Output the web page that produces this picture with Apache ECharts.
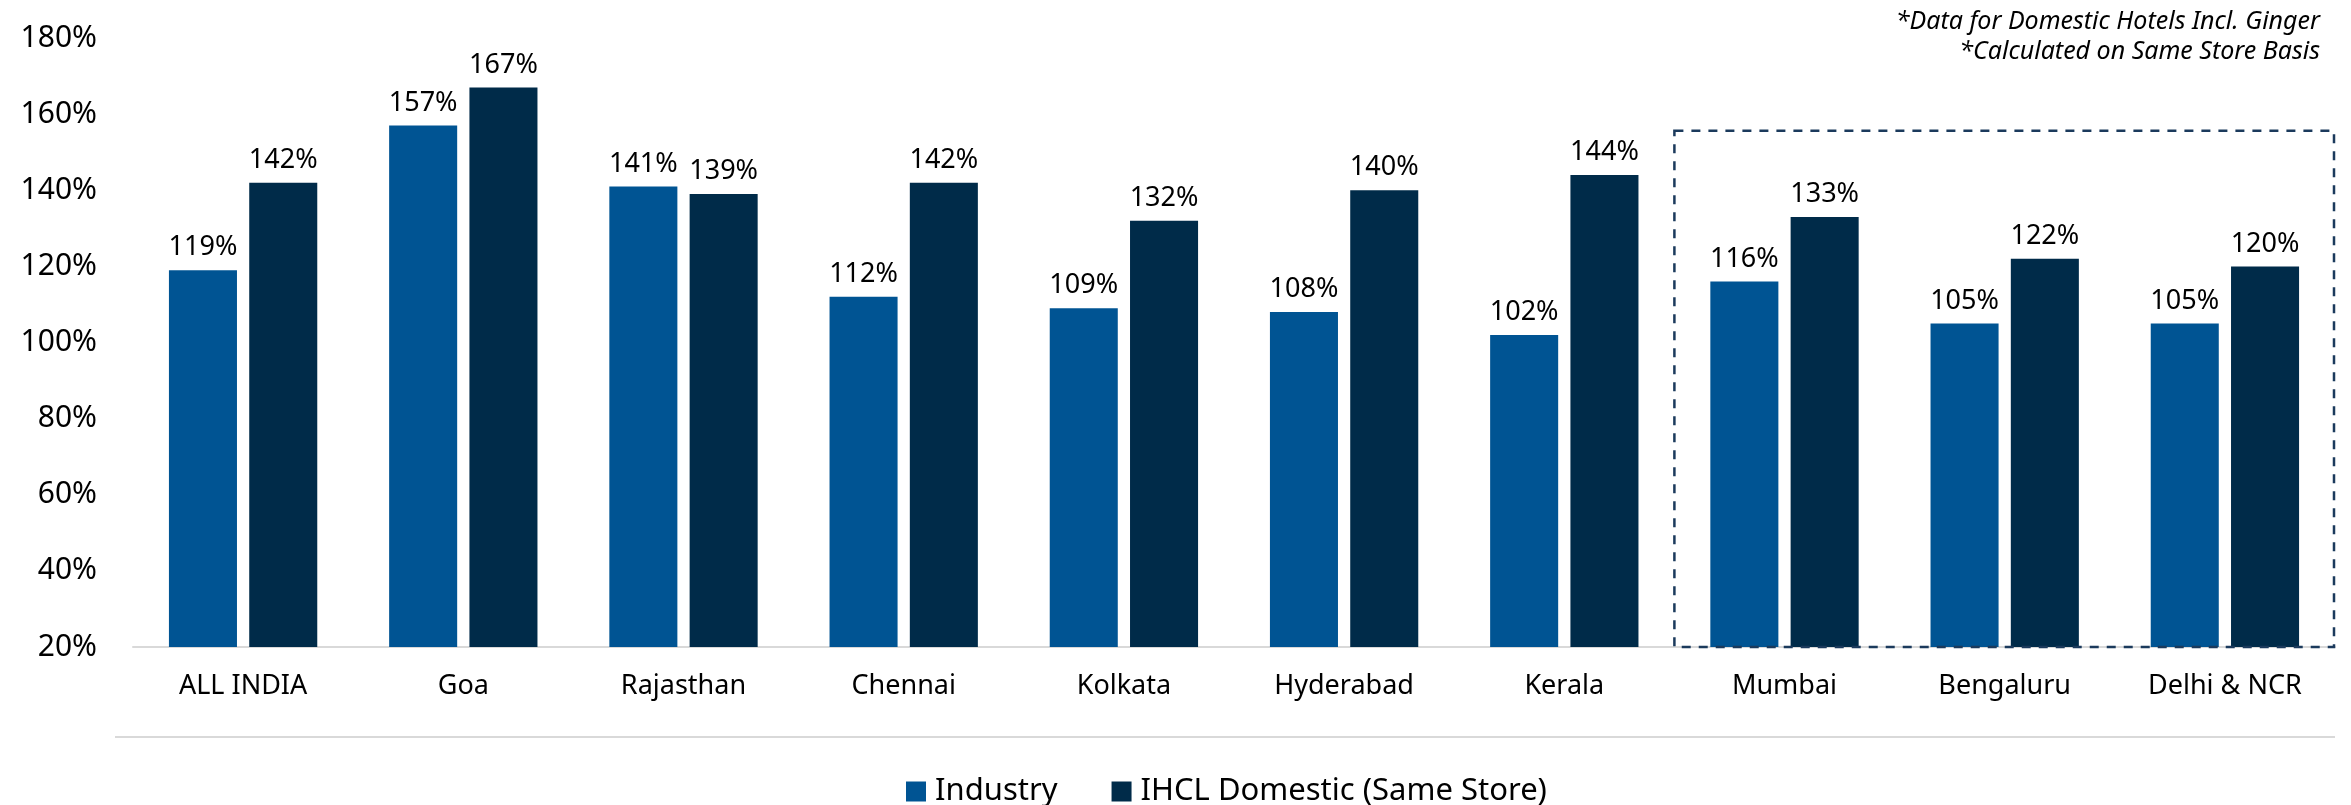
<!DOCTYPE html>
<html>
<head>
<meta charset="utf-8">
<script src="https://cdn.jsdelivr.net/npm/echarts@6/dist/echarts.min.js"></script>
<style>
html,body{margin:0;padding:0;background:#fff;}
#c{width:2351px;height:805px;}
</style>
</head>
<body>
<div id="c"></div>
<script>
const categories = ['ALL INDIA','Goa','Rajasthan','Chennai','Kolkata','Hyderabad','Kerala','Mumbai','Bengaluru','Delhi & NCR'];
const industry = [119,157,141,112,109,108,102,116,105,105];
const ihcl = [142,167,139,142,132,140,144,133,122,120];
const seriesNames = ['Industry','IHCL Domestic (Same Store)'];
const yTicks = {min:20, max:180, interval:20};
const notes = ['*Data for Domestic Hotels Incl. Ginger','*Calculated on Same Store Basis'];
const boxFrom = 'Mumbai';
const boxTop = 155.6;

const FONT = '"Noto Sans", "Open Sans", sans-serif';
const NOTE_FONT = 'italic 25px "Noto Sans", sans-serif';
const chart = echarts.init(document.getElementById('c'), null, {renderer:'canvas'});
const labelStyle = {show:true, position:'top', distance:9, color:'#000', fontSize:27, fontFamily:FONT,
  formatter: p => p.value + '%'};
const baseGraphic = [
  {type:'text', right:31, top:9, style:{text:notes[0], font:NOTE_FONT, fill:'#000', textAlign:'right'}},
  {type:'text', right:31, top:39, style:{text:notes[1], font:NOTE_FONT, fill:'#000', textAlign:'right'}},
  {type:'line', shape:{x1:115, y1:737, x2:2335, y2:737}, style:{stroke:'#D9D9D9', lineWidth:2}}
];
chart.setOption({
  animation:false,
  backgroundColor:'#fff',
  grid:{left:133, right:16, top:38, bottom:158, containLabel:false},
  legend:{
    data:seriesNames, left:901, top:771, itemWidth:20, itemHeight:20, itemGap:54,
    icon:'rect', textStyle:{fontSize:31, fontFamily:FONT, color:'#000', padding:[0,0,0,4]}
  },
  xAxis:{
    type:'category', data:categories,
    axisLine:{lineStyle:{color:'#D9D9D9', width:2}},
    axisTick:{show:false},
    axisLabel:{color:'#000', fontSize:27, fontFamily:FONT, margin:26, interval:0}
  },
  yAxis:{
    type:'value', min:yTicks.min, max:yTicks.max, interval:yTicks.interval,
    splitLine:{show:false}, axisLine:{show:false}, axisTick:{show:false},
    axisLabel:{color:'#000', fontSize:30, fontFamily:FONT, margin:36, formatter: v => v + '%'}
  },
  series:[
    {name:seriesNames[0], type:'bar', data:industry, barWidth:'30.9%', barGap:'18%',
     itemStyle:{color:'#005493'}, label:labelStyle},
    {name:seriesNames[1], type:'bar', data:ihcl, barWidth:'30.9%',
     itemStyle:{color:'#002B49'}, label:labelStyle}
  ],
  graphic:baseGraphic
});

// dashed box around the metro group, placed through the axes
const idx = categories.indexOf(boxFrom);
const c0 = chart.convertToPixel({xAxisIndex:0}, categories[0]);
const c1 = chart.convertToPixel({xAxisIndex:0}, categories[1]);
const band = c1 - c0;
const xL = chart.convertToPixel({xAxisIndex:0}, categories[idx]) - band/2;
const xR = chart.convertToPixel({xAxisIndex:0}, categories[categories.length-1]) + band/2;
const yT = chart.convertToPixel({yAxisIndex:0}, boxTop);
const yB = chart.convertToPixel({yAxisIndex:0}, yTicks.min);
chart.setOption({
  graphic: baseGraphic.concat([
    {type:'rect', shape:{x:xL, y:yT, width:xR-xL-1, height:yB-yT}, z:10,
     style:{fill:'none', stroke:'#1B3A5C', lineWidth:2.5, lineDash:[9,8]}}
  ])
}, {replaceMerge:['graphic']});
</script>
</body>
</html>
